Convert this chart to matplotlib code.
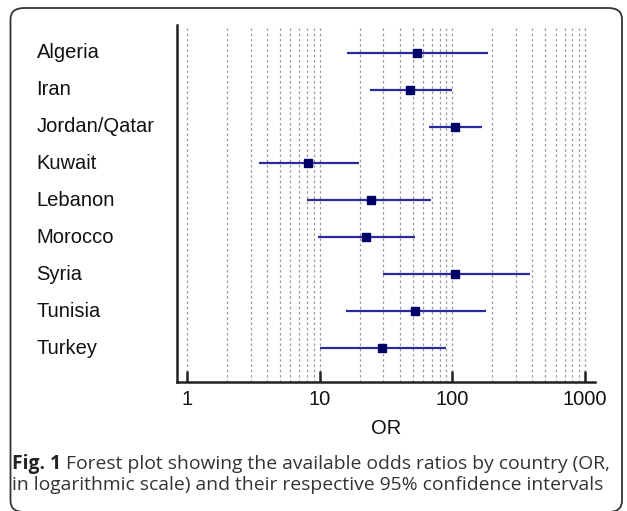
import matplotlib
matplotlib.use("Agg")
import matplotlib.pyplot as plt
from matplotlib.patches import FancyBboxPatch
import matplotlib.transforms as mtransforms
import numpy as np

countries = ["Algeria", "Iran", "Jordan/Qatar", "Kuwait", "Lebanon",
             "Morocco", "Syria", "Tunisia", "Turkey"]
or_est = [54.3, 47.8, 104.5, 8.2, 24.4, 22.1, 104.5, 52.1, 29.6]
ci_low = [15.9, 23.9, 66.5, 3.45, 7.95, 9.6, 29.9, 15.8, 10.1]
ci_high = [184, 100, 166, 19.7, 68.8, 52.1, 382, 178, 89.3]
tick_vals = [1, 10, 100, 1000]
tick_labels = ["1", "10", "100", "1000"]
grid_vals = [m * 10 ** k for k in range(3) for m in range(1, 10)] + [1000]
xlabel = "OR"
caption_bold = "Fig. 1"
caption_line1 = " Forest plot showing the available odds ratios by country (OR,"
caption_line2 = "in logarithmic scale) and their respective 95% confidence intervals"

W, H = 627, 511
fig = plt.figure(figsize=(W / 100, H / 100), dpi=100)

def fx(px):
    return px / W

def fy(py):
    return 1 - py / H

# rounded frame
box = FancyBboxPatch((fx(10.5), fy(512)), fx(622) - fx(10.5), fy(8) - fy(512),
                     boxstyle="round,pad=0,rounding_size=0.022",
                     transform=fig.transFigure, fill=False,
                     edgecolor="#333333", linewidth=1.3, clip_on=False)
fig.patches.append(box)

ax = fig.add_axes([fx(176.7), fy(381.7), fx(595) - fx(176.7), fy(25) - fy(381.7)])
ax.set_xscale("log")
ax.set_xlim(0.832, 1188)
n = len(countries)
ylo, yhi = n - 1 + 0.91, -0.75
ax.set_ylim(ylo, yhi)

ygrid_top = -0.68
ax.vlines(grid_vals, ygrid_top, ylo, colors="#9a9a9a", linestyles=(0, (2.0, 2.2)),
          linewidth=0.9, zorder=1)

ypos = np.arange(n)
ax.hlines(ypos, ci_low, ci_high, colors="#2a2a9c", linewidth=1.6, zorder=3)
ax.plot(or_est, ypos, "s", color="#000066", markersize=6, zorder=4)

for s in ["top", "right"]:
    ax.spines[s].set_visible(False)
for s in ["left", "bottom"]:
    ax.spines[s].set_linewidth(1.8)
    ax.spines[s].set_color("#222222")

ax.set_yticks([])
ax.set_xticks(tick_vals)
ax.set_xticklabels(tick_labels)
ax.minorticks_off()
ax.xaxis.set_minor_locator(matplotlib.ticker.NullLocator())
ax.tick_params(axis="x", direction="in", length=8, width=1.8, color="#222222",
               pad=6, labelsize=14.5)
for lab in ax.get_xticklabels():
    lab.set_fontfamily("Liberation Sans")
    lab.set_color("#111111")

ax.set_xlabel(xlabel, fontsize=14.5, family="Liberation Sans", color="#111111",
              labelpad=7)

trans = mtransforms.blended_transform_factory(fig.transFigure, ax.transData)
for i, c in enumerate(countries):
    ax.text(fx(36.5), i, c, transform=trans, ha="left", va="center",
            fontsize=14.5, family="Liberation Sans", color="#111111")

# caption
cap_size = 13.85
t1 = fig.text(fx(12), fy(469), caption_bold, ha="left", va="baseline",
              fontsize=cap_size, family="Open Sans", fontweight="bold", color="#222222")
fig.canvas.draw()
bb = t1.get_window_extent(renderer=fig.canvas.get_renderer())
fig.text(bb.x1 / W, fy(469), caption_line1, ha="left", va="baseline",
         fontsize=cap_size, family="Open Sans", color="#333333")
fig.text(fx(12), fy(490), caption_line2, ha="left", va="baseline",
         fontsize=cap_size, family="Open Sans", color="#333333")

fig.savefig("out.png", dpi=100)
